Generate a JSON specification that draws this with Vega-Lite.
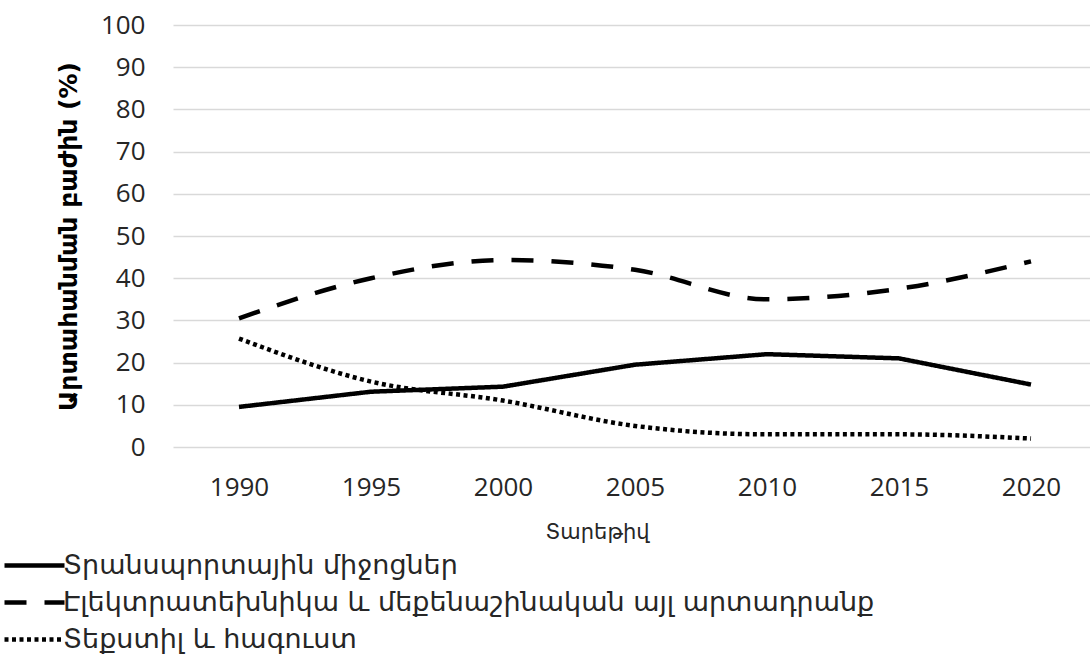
{
  "$schema": "https://vega.github.io/schema/vega-lite/v6.json",
  "autosize": {"type": "none"},
  "padding": {"left": 173, "top": 25, "right": 0, "bottom": 207},
  "width": 924,
  "height": 422,
  "background": "white",
  "config": {
    "view": {"stroke": null},
    "font": "Open Sans"
  },
  "data": {
    "values": [
      {"year": "1990", "series": "Տրանսպորտային միջոցներ", "share": 9.5},
      {"year": "1995", "series": "Տրանսպորտային միջոցներ", "share": 13.1},
      {"year": "2000", "series": "Տրանսպորտային միջոցներ", "share": 14.3},
      {"year": "2005", "series": "Տրանսպորտային միջոցներ", "share": 19.5},
      {"year": "2010", "series": "Տրանսպորտային միջոցներ", "share": 22},
      {"year": "2015", "series": "Տրանսպորտային միջոցներ", "share": 21},
      {"year": "2020", "series": "Տրանսպորտային միջոցներ", "share": 14.8},
      {"year": "1990", "series": "Էլեկտրատեխնիկա և մեքենաշինական այլ արտադրանք", "share": 30.5},
      {"year": "1995", "series": "Էլեկտրատեխնիկա և մեքենաշինական այլ արտադրանք", "share": 40},
      {"year": "2000", "series": "Էլեկտրատեխնիկա և մեքենաշինական այլ արտադրանք", "share": 44.3},
      {"year": "2005", "series": "Էլեկտրատեխնիկա և մեքենաշինական այլ արտադրանք", "share": 42},
      {"year": "2010", "series": "Էլեկտրատեխնիկա և մեքենաշինական այլ արտադրանք", "share": 35},
      {"year": "2015", "series": "Էլեկտրատեխնիկա և մեքենաշինական այլ արտադրանք", "share": 37.5},
      {"year": "2020", "series": "Էլեկտրատեխնիկա և մեքենաշինական այլ արտադրանք", "share": 44},
      {"year": "1990", "series": "Տեքստիլ և հագուստ", "share": 25.7},
      {"year": "1995", "series": "Տեքստիլ և հագուստ", "share": 15.5},
      {"year": "2000", "series": "Տեքստիլ և հագուստ", "share": 11},
      {"year": "2005", "series": "Տեքստիլ և հագուստ", "share": 5},
      {"year": "2010", "series": "Տեքստիլ և հագուստ", "share": 3},
      {"year": "2015", "series": "Տեքստիլ և հագուստ", "share": 3},
      {"year": "2020", "series": "Տեքստիլ և հագուստ", "share": 2}
    ]
  },
  "encoding": {
    "x": {
      "field": "year", "type": "ordinal",
      "scale": {"type": "point", "padding": 0.5},
      "axis": {
        "title": "Տարեթիվ",
        "labelAngle": 0,
        "labelFont": "Open Sans",
        "labelFontSize": 26,
        "labelColor": "#262626",
        "labelPadding": 27,
        "titleFont": "DejaVu Sans",
        "titleFontSize": 21,
        "titleFontWeight": "normal",
        "titleColor": "#262626",
        "titlePadding": 21,
        "titleX": 424,
        "titleAlign": "center",
        "domain": false,
        "ticks": false,
        "grid": false
      }
    },
    "y": {
      "field": "share", "type": "quantitative",
      "scale": {"domain": [0, 100], "nice": false},
      "axis": {
        "title": "Արտահանման բաժին (%)",
        "values": [0, 10, 20, 30, 40, 50, 60, 70, 80, 90, 100],
        "labelFont": "Open Sans",
        "labelFontSize": 26,
        "labelColor": "#262626",
        "labelPadding": 28,
        "titleFont": "DejaVu Sans",
        "titleFontSize": 25,
        "titleFontWeight": "bold",
        "titleColor": "#000000",
        "titlePadding": 19,
        "domain": false,
        "ticks": false,
        "grid": true,
        "gridColor": "#d9d9d9",
        "gridWidth": 1.5
      }
    },
    "strokeDash": {
      "field": "series", "type": "nominal",
      "scale": {
        "domain": ["Տրանսպորտային միջոցներ", "Էլեկտրատեխնիկա և մեքենաշինական այլ արտադրանք", "Տեքստիլ և հագուստ"],
        "range": [[1, 0], [22, 18], [4, 3.5]]
      },
      "legend": {
        "title": null,
        "orient": "none",
        "legendX": -171,
        "legendY": 523,
        "direction": "vertical",
        "symbolType": "M-2,0H2",
        "symbolSize": 900,
        "symbolOffset": 15,
        "symbolStrokeWidth": 4.5,
        "symbolStrokeColor": "#000000",
        "symbolFillColor": "transparent",
        "labelFont": "DejaVu Sans",
        "labelFontSize": 27,
        "labelColor": "#262626",
        "labelOffset": 11,
        "labelLimit": 1000,
        "rowPadding": 6,
        "padding": 0
      }
    }
  },
  "layer": [
    {
      "transform": [{"filter": "datum.series === 'Տրանսպորտային միջոցներ'"}],
      "mark": {"type": "line", "color": "#000000", "strokeWidth": 4.5, "interpolate": "linear"}
    },
    {
      "transform": [{"filter": "datum.series !== 'Տրանսպորտային միջոցներ'"}],
      "mark": {"type": "line", "color": "#000000", "strokeWidth": 4.5, "interpolate": "monotone"}
    }
  ]
}
